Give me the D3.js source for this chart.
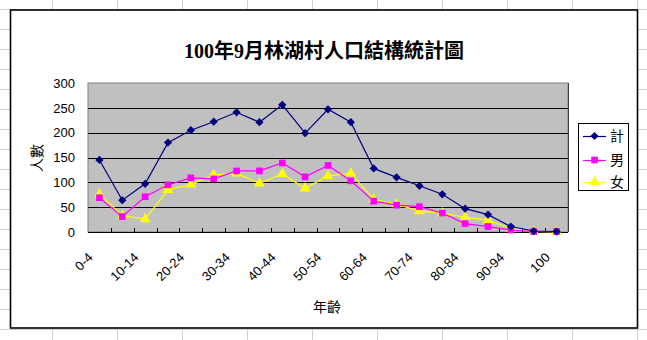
<!DOCTYPE html>
<html>
<head>
<meta charset="utf-8">
<script src="https://cdn.jsdelivr.net/npm/d3@7"></script>
<style>
  html, body { margin: 0; padding: 0; background: #fff; }
  svg { display: block; }
</style>
</head>
<body>
<svg id="chart" width="647" height="340"></svg>
<script>
// Age groups (5-year bands)
const ageGroups = ["0-4","5-9","10-14","15-19","20-24","25-29","30-34","35-39","40-44","45-49",
  "50-54","55-59","60-64","65-69","70-74","75-79","80-84","85-89","90-94","95-99","100"];
// Population by age group
const totalCounts = [145, 64, 97, 180, 205, 222, 241, 221, 256, 199, 247, 221, 128, 110, 93, 76, 47, 35, 11, 2, 1];
const maleCounts  = [69, 31, 71, 95, 109, 107, 123, 123, 139, 111, 134, 103, 62, 54, 51, 38, 17, 11, 4, 1, 1];
const femaleCounts= [76, 33, 26, 85, 96, 115, 118, 98, 117, 88, 113, 118, 66, 56, 42, 38, 30, 24, 7, 1, 0];
const yTicks = [0, 50, 100, 150, 200, 250, 300];
const seriesNames = ["計", "男", "女"];

const svg = d3.select("#chart");
const W = 647, H = 340;
const latin = "'Liberation Sans', Arial, 'Noto Sans CJK TC', sans-serif";
const serif = "'Liberation Serif', 'Times New Roman', 'Noto Sans CJK TC', serif";

// worksheet cell grid behind the chart object
const sheet = svg.append("g");
d3.range(52, W + 1, 65).forEach(x => sheet.append("line")
  .attr("x1", x + 0.5).attr("x2", x + 0.5).attr("y1", 0).attr("y2", H)
  .attr("stroke", "#d0d0d0"));
d3.range(9, H, 20).forEach(y => sheet.append("line")
  .attr("x1", 0).attr("x2", W).attr("y1", y + 0.5).attr("y2", y + 0.5)
  .attr("stroke", "#d0d0d0"));

// chart area
svg.append("rect").attr("x", 10.5).attr("y", 10).attr("width", 627).attr("height", 318)
  .attr("fill", "#fff").attr("stroke", "#000").attr("stroke-width", 1.6);

svg.append("text").attr("x", 324).attr("y", 58).attr("text-anchor", "middle")
  .attr("font-family", serif).attr("font-size", 20).attr("font-weight", "bold")
  .text("100年9月林湖村人口結構統計圖");

const plot = { left: 88, top: 83, right: 568, bottom: 232 };
const x = d3.scaleBand().domain(ageGroups).range([plot.left, plot.right]).paddingInner(0).paddingOuter(0);
const cx = d => x(d) + x.bandwidth() / 2;
const y = d3.scaleLinear().domain([0, 300]).range([plot.bottom, plot.top]);

svg.append("rect").attr("x", plot.left).attr("y", plot.top)
  .attr("width", plot.right - plot.left).attr("height", plot.bottom - plot.top)
  .attr("fill", "#c0c0c0").attr("stroke", "#808080");

// horizontal gridlines
svg.append("g").selectAll("line").data(yTicks.filter(v => v > 0 && v < 300)).join("line")
  .attr("x1", plot.left).attr("x2", plot.right)
  .attr("y1", d => Math.round(y(d)) + 0.5).attr("y2", d => Math.round(y(d)) + 0.5)
  .attr("stroke", "#000");

// y axis labels
const yAxis = svg.append("g").attr("transform", `translate(${plot.left},0)`)
  .call(d3.axisLeft(y).tickValues(yTicks).tickSize(0).tickPadding(13));
yAxis.select(".domain").remove();
yAxis.selectAll("text").attr("font-family", latin).attr("font-size", 13).attr("fill", "#000");

// category axis: line, inner ticks at band boundaries, rotated labels
svg.append("line").attr("x1", plot.left).attr("x2", plot.right)
  .attr("y1", plot.bottom + 0.5).attr("y2", plot.bottom + 0.5).attr("stroke", "#000");
svg.append("g").selectAll("line").data(ageGroups.slice(1)).join("line")
  .attr("x1", d => Math.round(x(d)) + 0.5).attr("x2", d => Math.round(x(d)) + 0.5)
  .attr("y1", plot.bottom - 4).attr("y2", plot.bottom).attr("stroke", "#000");
svg.append("line").attr("x1", plot.right + 0.5).attr("x2", plot.right + 0.5)
  .attr("y1", plot.top).attr("y2", plot.bottom).attr("stroke", "#404040");

const xAxis = svg.append("g").attr("transform", `translate(0,${plot.bottom + 23})`)
  .call(d3.axisBottom(x).tickValues(ageGroups.filter((d, i) => i % 2 === 0)).tickSize(0).tickPadding(0));
xAxis.select(".domain").remove();
xAxis.selectAll("text")
  .attr("font-family", latin).attr("font-size", 13).attr("fill", "#000")
  .attr("text-anchor", "end").attr("dy", "0.35em")
  .attr("transform", "translate(-9,0) rotate(-45)");

// axis titles
svg.append("text").attr("transform", "translate(42,158) rotate(-90)")
  .attr("text-anchor", "middle").attr("font-family", latin).attr("font-size", 14).text("人數");
svg.append("text").attr("x", 327).attr("y", 312).attr("text-anchor", "middle")
  .attr("font-family", latin).attr("font-size", 14).text("年齡");

// marker shapes: diamond is a square turned 45°
const diamond = d3.symbol().type(d3.symbolSquare).size(34);
const series = [
  { name: seriesNames[0], values: totalCounts, color: "#000080", marker: diamond, rotate: 45 },
  { name: seriesNames[1], values: maleCounts, color: "#ff00ff", marker: d3.symbol().type(d3.symbolSquare).size(44), rotate: 0 },
  { name: seriesNames[2], values: femaleCounts, color: "#ffff00", marker: d3.symbol().type(d3.symbolTriangle).size(50), rotate: 0 }
];
const line = d3.line().x((v, i) => cx(ageGroups[i])).y(v => y(v));

// draw women first so the total stays on top
[...series].reverse().forEach(s => {
  const g = svg.append("g");
  g.append("path").attr("d", line(s.values)).attr("fill", "none")
    .attr("stroke", s.color).attr("stroke-width", 1.2);
  g.selectAll("path.pt").data(s.values).join("path").attr("class", "pt")
    .attr("transform", (v, i) => `translate(${cx(ageGroups[i])},${y(v)}) rotate(${s.rotate})`)
    .attr("d", s.marker()).attr("fill", s.color);
});

// legend
const lg = svg.append("g");
lg.append("rect").attr("x", 578.5).attr("y", 123.5).attr("width", 50).attr("height", 67)
  .attr("fill", "#fff").attr("stroke", "#000");
const legendY = [136, 160, 182];
series.forEach((s, i) => {
  lg.append("line").attr("x1", 583).attr("x2", 606).attr("y1", legendY[i] + 0.5).attr("y2", legendY[i] + 0.5)
    .attr("stroke", s.color).attr("stroke-width", 1.2);
  lg.append("path").attr("transform", `translate(594.5,${legendY[i]}) rotate(${s.rotate})`)
    .attr("d", s.marker()).attr("fill", s.color);
  lg.append("text").attr("x", 610).attr("y", legendY[i]).attr("dy", "0.35em")
    .attr("font-family", latin).attr("font-size", 14).text(s.name);
});
</script>
</body>
</html>
